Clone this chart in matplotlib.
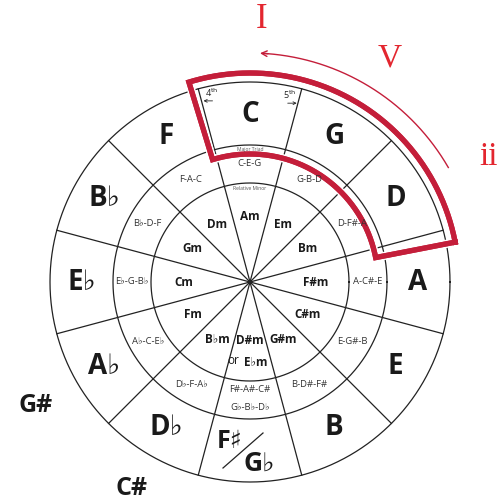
import numpy as np
import matplotlib.pyplot as plt
import matplotlib.patheffects as pe

# keys going clockwise from the top (C)
majors = ['C', 'G', 'D', 'A', 'E', 'B', '', 'D♭', 'A♭', 'E♭', 'B♭', 'F']
triads = ['C-E-G', 'G-B-D', 'D-F#-A', 'A-C#-E', 'E-G#-B', 'B-D#-F#', '',
          'D♭-F-A♭', 'A♭-C-E♭', 'E♭-G-B♭', 'B♭-D-F', 'F-A-C']
minors = ['Am', 'Em', 'Bm', 'F#m', 'C#m', 'G#m', '', 'B♭m', 'Fm', 'Cm', 'Gm', 'Dm']
enharmonic = {8: 'G#', 7: 'C#'}
split_major = ('F♯', 'G♭')
split_triad = ('F#-A#-C#', 'G♭-B♭-D♭')
split_minor = ('D#m', 'or', 'E♭m')
degrees = ['I', 'V', 'ii']

W, H = 499, 504
cx, cy = 250, 282
R_out, R_mid, R_in = 200, 137, 99
SANS = ['Open Sans', 'DejaVu Sans']
RED = '#c41e3a'
RED_TXT = '#e3262f'

def pt(r, a):
    a = np.radians(a)
    return cx + r * np.cos(a), cy - r * np.sin(a)

fig = plt.figure(figsize=(4.99, 5.04), dpi=100)
ax = fig.add_axes([0, 0, 1, 1])
ax.set_xlim(0, W)
ax.set_ylim(H, 0)
ax.axis('off')

# rings and spokes
th = np.linspace(0, 360, 721)
for R in (R_out, R_mid, R_in):
    x, y = pt(R, th)
    ax.plot(x, y, color='#222222', lw=0.9)
for k in range(12):
    a = 15 + 30 * k
    x0, y0 = pt(0, a)
    x1, y1 = pt(R_out, a)
    ax.plot([x0, x1], [y0, y1], color='#222222', lw=0.9)

# labels in each sector
for i in range(12):
    a = 90 - 30 * i
    if majors[i]:
        x, y = pt(168, a)
        ax.text(x, y, majors[i], ha='center', va='center', fontsize=20,
                fontweight='bold', family=SANS, color='#1a1a1a')
    if triads[i]:
        x, y = pt(118, a)
        ax.text(x, y, triads[i], ha='center', va='center', fontsize=6.8,
                family=SANS, color='#333333')
    if minors[i]:
        x, y = pt(66, a)
        ax.text(x, y, minors[i], ha='center', va='center', fontsize=8.5,
                fontweight='bold', family=SANS, color='#1a1a1a')
    if i in enharmonic:
        r = 248 if i == 8 else 238
        x, y = pt(r, a)
        ax.text(x, y, enharmonic[i], ha='center', va='center', fontsize=18,
                fontweight='bold', family=SANS, color='#1a1a1a')

# F#/Gb sector at the bottom
ax.text(230, 442, split_major[0], ha='center', va='center', fontsize=18,
        fontweight='bold', family=SANS, color='#1a1a1a')
ax.text(259, 463, split_major[1], ha='center', va='center', fontsize=19,
        fontweight='bold', family=SANS, color='#1a1a1a')
ax.plot([223, 263], [468, 433], color='#222222', lw=0.9)
ax.text(*pt(108, -90), split_triad[0], ha='center', va='center', fontsize=6.8,
        family=SANS, color='#333333')
ax.text(*pt(126, -90), split_triad[1], ha='center', va='center', fontsize=6.8,
        family=SANS, color='#333333')
ax.text(*pt(58, -90), split_minor[0], ha='center', va='center', fontsize=8.5,
        fontweight='bold', family=SANS, color='#1a1a1a')
ax.text(233, 361, split_minor[1], ha='center', va='center', fontsize=8.5,
        family=SANS, color='#1a1a1a')
ax.text(256, 363, split_minor[2], ha='center', va='center', fontsize=8.5,
        fontweight='bold', family=SANS, color='#1a1a1a')

# tiny ring captions
ax.text(*pt(133, 90), 'Major Triad', ha='center', va='center', fontsize=3.6,
        family=SANS, color='#555555')
ax.text(*pt(94, 90), 'Relative Minor', ha='center', va='center', fontsize=3.6,
        family=SANS, color='#555555')

# 4th / 5th markers
x, y = pt(193, 101.5)
ax.text(x, y, r'4$^{\rm th}$', ha='center', va='center', fontsize=6.5,
        family=SANS, color='#222222')
ax.annotate('', xy=(x - 8, y + 8), xytext=(x + 1, y + 8),
            arrowprops=dict(arrowstyle='->', lw=0.6, color='#222222',
                            shrinkA=0, shrinkB=0, mutation_scale=5))
x, y = pt(191, 78)
ax.text(x, y, r'5$^{\rm th}$', ha='center', va='center', fontsize=6.5,
        family=SANS, color='#222222')
ax.annotate('', xy=(x + 7, y + 8), xytext=(x - 2, y + 8),
            arrowprops=dict(arrowstyle='->', lw=0.6, color='#222222',
                            shrinkA=0, shrinkB=0, mutation_scale=5))

# red highlight around C, G, D
a1, a2 = 11, 107
arc_o = np.linspace(a1, a2, 200)
arc_i = arc_o[::-1]
xo, yo = pt(209, arc_o)
xi, yi = pt(128, arc_i)
xs = np.concatenate([xo, xi, xo[:1]])
ys = np.concatenate([yo, yi, yo[:1]])
ax.plot(xs, ys, color=RED, lw=3.8, solid_joinstyle='miter',
        path_effects=[pe.withStroke(linewidth=6.0, foreground='white'), pe.Normal()])

# red arrow arc
arc = np.linspace(30, 86, 200)
x, y = pt(229, arc)
ax.plot(x, y, color=RED, lw=1.0)
ax.annotate('', xy=pt(229, 87.5), xytext=pt(229, 85.5),
            arrowprops=dict(arrowstyle='->', lw=1.0, color=RED,
                            shrinkA=0, shrinkB=0, mutation_scale=10))

# roman numerals
ax.text(262, 20, degrees[0], ha='center', va='center', fontsize=25,
        family='Liberation Serif', color=RED_TXT)
ax.text(390, 58, degrees[1], ha='center', va='center', fontsize=24,
        family='Liberation Serif', color=RED_TXT)
ax.text(489, 157, degrees[2], ha='center', va='center', fontsize=24,
        family='Liberation Serif', color=RED_TXT)

fig.savefig('out.png', dpi=100)
